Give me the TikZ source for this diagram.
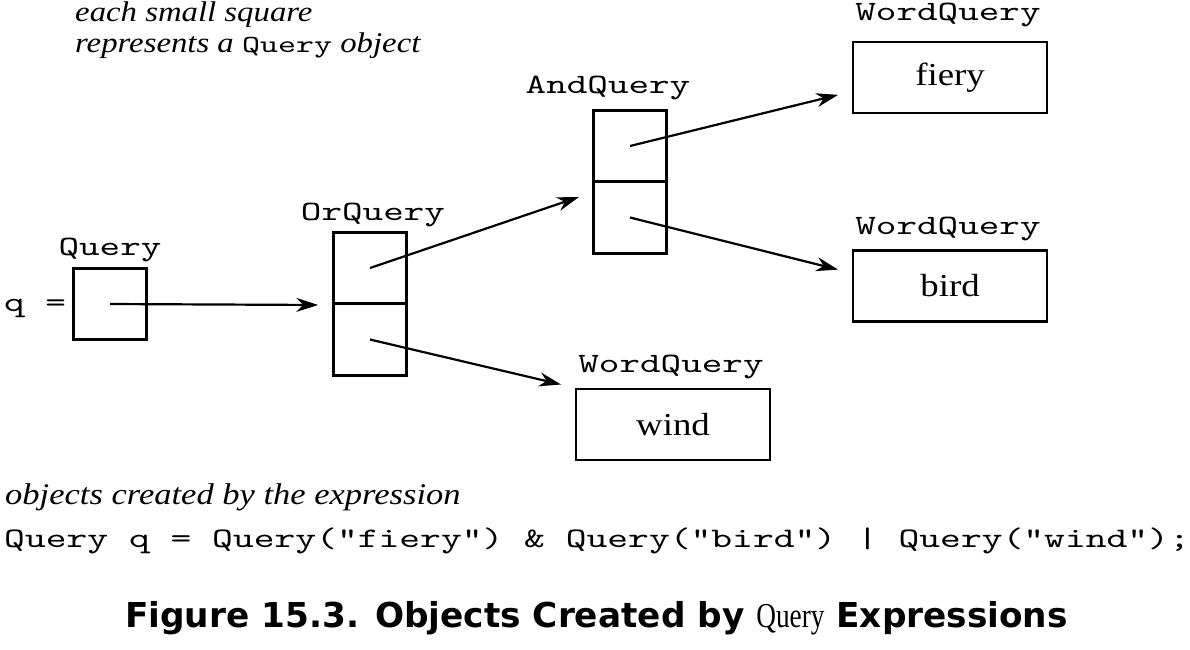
\documentclass[tikz,border=0pt]{standalone}
\usepackage{fontspec}
\setmainfont{Liberation Serif}[FakeStretch=1.15]
\newfontfamily\codefont{lmmono10-regular.otf}[FakeStretch=1.4]
\newfontfamily\capfont{DejaVu Sans}
\newfontfamily\capserif{Liberation Serif}[FakeStretch=0.78]
\usetikzlibrary{arrows.meta}
\newcommand\qmark{\symbol{34}}
\tikzset{
  cell/.style={draw, line width=2.6pt, minimum width=73pt, minimum height=71.5pt, inner sep=0pt},
  wordbox/.style={draw, line width=2.6pt, minimum width=194pt, minimum height=71pt,
    inner sep=0pt, font=\fontsize{32}{36}\selectfont},
  tag/.style={anchor=base, inner sep=0pt, font=\codefont\fontsize{28}{32}\selectfont},
  note/.style={anchor=base west, inner sep=0pt, font=\fontsize{28.5}{32}\selectfont\itshape},
  ptr/.style={line width=2.2pt, -{Stealth[length=22pt,width=14pt]}, shorten >=14pt},
}

\begin{document}
\begin{tikzpicture}[x=1pt, y=-1pt]
    \useasboundingbox (0,0) rectangle (1190,649);
    \node[note] (hint1) at (75,21) {each small square};
    \node[note] (hint2) at (75,52) {represents a {\upshape\codefont\fontsize{24.5}{30}\selectfont Query} object};

    \node[cell] (q) at (110,304) {};
    \node[tag] (qlab) at (110,255) {Query};
    \node[tag, anchor=base west] (qeq) at (4,311) {q =};

    \node[cell] (ortop) at (370,268) {};
    \node[cell] (orbot) at (370,339.5) {};
    \node[tag] (orlab) at (373,220) {OrQuery};

    \node[cell] (andtop) at (630,146) {};
    \node[cell] (andbot) at (630,217.5) {};
    \node[tag] (andlab) at (608,93) {AndQuery};

    \node[wordbox] (fiery) at (950,77.5) {fiery};
    \node[tag] (fierylab) at (948,20) {WordQuery};
    \node[wordbox] (bird) at (950,286) {bird};
    \node[tag] (birdlab) at (948,234) {WordQuery};
    \node[wordbox] (wind) at (673,424.5) {wind};
    \node[tag] (windlab) at (671,372) {WordQuery};

    \draw[ptr] (q.center) -- (ortop.south west);
    \draw[ptr] (ortop.center) -- ([yshift=-12pt]andbot.north west);
    \draw[ptr] (orbot.center) -- (wind.north west);
    \draw[ptr] (andtop.center) -- ([yshift=-14pt]fiery.west);
    \draw[ptr] (andbot.center) -- ([yshift=13pt]bird.west);

    \node[note, font=\fontsize{30}{34}\selectfont\itshape] (expr) at (5,504) {objects created by the expression};
    \node[tag, anchor=base west, font=\codefont\fontsize{28.3}{32}\selectfont] (code) at (4,547)
      {Query q = Query(\qmark fiery\qmark) \& Query(\qmark bird\qmark) | Query(\qmark wind\qmark);};

    \node[anchor=base west, inner sep=0pt, font=\capfont\bfseries\fontsize{34.3}{38}\selectfont] (caption) at (125,627)
      {Figure 15.3. Objects Created by {\capserif\mdseries\fontsize{35}{38}\selectfont Query} Expressions};
\end{tikzpicture}
\end{document}
